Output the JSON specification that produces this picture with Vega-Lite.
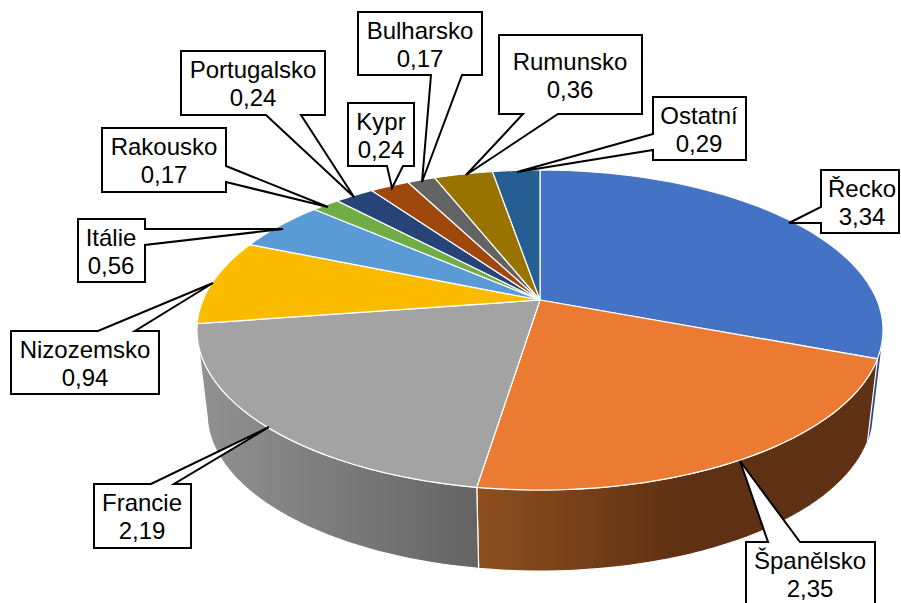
{
"$schema":"https://vega.github.io/schema/vega-lite/v6.json",
"width":901,"height":603,"padding":0,"autosize":{"type":"none"},
"background":"white",
"config":{"view":{"stroke":null},"axis":{"domain":false},"text":{"font":"Liberation Sans"}},
"datasets":{"slices":[
{"name":"Řecko","value":3.34,"tx":862,"yn":197,"yv":225,"xs":[821,899,899,821,821,789,821],"ys":[170,170,233,233,223,223,207],"k":[0,1,2,3,4,5,6]},
{"name":"Španělsko","value":2.35,"tx":810,"yn":569,"yv":597,"xs":[746,768,740,800,875,875,746],"ys":[542,542,461,542,542,612,612],"k":[0,1,2,3,4,5,6]},
{"name":"Francie","value":2.19,"tx":142,"yn":511,"yv":539,"xs":[94,151,269,174,191,191,94],"ys":[484,484,427,484,484,548,548],"k":[0,1,2,3,4,5,6]},
{"name":"Nizozemsko","value":0.94,"tx":85,"yn":358,"yv":386,"xs":[11,98,213,135,159,159,11],"ys":[331,331,283,331,331,394,394],"k":[0,1,2,3,4,5,6]},
{"name":"Itálie","value":0.56,"tx":111,"yn":246,"yv":274,"xs":[78,145,145,283,145,145,78],"ys":[219,219,229,229,245,282,282],"k":[0,1,2,3,4,5,6]},
{"name":"Rakousko","value":0.17,"tx":164,"yn":155,"yv":183,"xs":[102,226,226,328,226,226,102],"ys":[128,128,166,207,182,192,192],"k":[0,1,2,3,4,5,6]},
{"name":"Portugalsko","value":0.24,"tx":253,"yn":78,"yv":106,"xs":[181,325,325,301,354,266,181],"ys":[51,51,115,115,197,115,115],"k":[0,1,2,3,4,5,6]},
{"name":"Kypr","value":0.24,"tx":381,"yn":130,"yv":158,"xs":[348,414,414,403,392,387,348],"ys":[103,103,166,166,188,166,166],"k":[0,1,2,3,4,5,6]},
{"name":"Bulharsko","value":0.17,"tx":420,"yn":39,"yv":67,"xs":[358,482,482,462,422,431,358],"ys":[12,12,75,75,182,75,75],"k":[0,1,2,3,4,5,6]},
{"name":"Rumunsko","value":0.36,"tx":570,"yn":70,"yv":98,"xs":[499,642,642,558,466,523,499],"ys":[35,35,114,114,175,114,114],"k":[0,1,2,3,4,5,6]},
{"name":"Ostatní","value":0.29,"tx":699,"yn":124,"yv":152,"xs":[653,746,746,653,653,517,653],"ys":[97,97,160,160,150,172,134],"k":[0,1,2,3,4,5,6]}
]},
"data":{"name":"slices"},
"encoding":{
"x":{"field":"px","type":"quantitative","axis":null,"scale":{"domain":[0,901],"nice":false,"zero":false}},
"y":{"field":"py","type":"quantitative","axis":null,"scale":{"domain":[603,0],"nice":false,"zero":false}}
},
"layer":[
{"transform":[
{"window":[{"op":"sum","field":"value","as":"cum"}]},
{"joinaggregate":[{"op":"sum","field":"value","as":"total"}]},
{"calculate":"max((datum.cum-datum.value)/datum.total*2*PI,1.85)","as":"a0"},
{"calculate":"min(datum.cum/datum.total*2*PI,4.503)","as":"a1"},
{"filter":"datum.name==='Řecko'"},
{"calculate":"sequence(0,82)","as":"ts"},
{"flatten":["ts"],"as":["i"]},
{"calculate":"datum.a0+(datum.a1-datum.a0)*(datum.i<=40?datum.i/40:(81-datum.i)/40)","as":"a"},
{"calculate":"1+0.1875*cos(datum.a)","as":"d"},
{"calculate":"540+(datum.i<=40?337:327)*sin(datum.a)/datum.d","as":"px"},
{"calculate":"datum.i<=40?300-154.4*cos(datum.a)/datum.d:384-152*cos(datum.a)/datum.d","as":"py"}],
"mark":{"type":"line","interpolate":"linear-closed","stroke":null,"fill":"#2c4a85"},
"encoding":{"order":{"field":"i","type":"quantitative"}}},
{"transform":[
{"window":[{"op":"sum","field":"value","as":"cum"}]},
{"joinaggregate":[{"op":"sum","field":"value","as":"total"}]},
{"calculate":"max((datum.cum-datum.value)/datum.total*2*PI,1.85)","as":"a0"},
{"calculate":"min(datum.cum/datum.total*2*PI,4.503)","as":"a1"},
{"filter":"datum.name==='Španělsko'"},
{"calculate":"sequence(0,82)","as":"ts"},
{"flatten":["ts"],"as":["i"]},
{"calculate":"datum.a0+(datum.a1-datum.a0)*(datum.i<=40?datum.i/40:(81-datum.i)/40)","as":"a"},
{"calculate":"1+0.1875*cos(datum.a)","as":"d"},
{"calculate":"540+(datum.i<=40?337:327)*sin(datum.a)/datum.d","as":"px"},
{"calculate":"datum.i<=40?300-154.4*cos(datum.a)/datum.d:384-152*cos(datum.a)/datum.d","as":"py"}],
"mark":{"type":"line","interpolate":"linear-closed","stroke":"white","strokeWidth":1.2,
"fill":{"gradient":"linear","x1":0,"x2":1,"y1":0,"y2":0,"stops":[{"offset":0,"color":"#8e4f1e"},{"offset":0.5,"color":"#5f3114"},{"offset":1,"color":"#5f3114"}]}},
"encoding":{"order":{"field":"i","type":"quantitative"}}},
{"transform":[
{"window":[{"op":"sum","field":"value","as":"cum"}]},
{"joinaggregate":[{"op":"sum","field":"value","as":"total"}]},
{"calculate":"max((datum.cum-datum.value)/datum.total*2*PI,1.85)","as":"a0"},
{"calculate":"min(datum.cum/datum.total*2*PI,4.503)","as":"a1"},
{"filter":"datum.name==='Francie'"},
{"calculate":"sequence(0,82)","as":"ts"},
{"flatten":["ts"],"as":["i"]},
{"calculate":"datum.a0+(datum.a1-datum.a0)*(datum.i<=40?datum.i/40:(81-datum.i)/40)","as":"a"},
{"calculate":"1+0.1875*cos(datum.a)","as":"d"},
{"calculate":"540+(datum.i<=40?337:327)*sin(datum.a)/datum.d","as":"px"},
{"calculate":"datum.i<=40?300-154.4*cos(datum.a)/datum.d:384-152*cos(datum.a)/datum.d","as":"py"}],
"mark":{"type":"line","interpolate":"linear-closed","stroke":"white","strokeWidth":1.2,
"fill":{"gradient":"linear","x1":0,"x2":1,"y1":0,"y2":0,"stops":[{"offset":0,"color":"#929292"},{"offset":1,"color":"#646464"}]}},
"encoding":{"order":{"field":"i","type":"quantitative"}}},
{"transform":[
{"window":[{"op":"sum","field":"value","as":"cum"}]},
{"joinaggregate":[{"op":"sum","field":"value","as":"total"}]},
{"calculate":"(datum.cum-datum.value)/datum.total*2*PI","as":"a0"},
{"calculate":"datum.cum/datum.total*2*PI","as":"a1"},
{"calculate":"sequence(-1,41)","as":"ts"},
{"flatten":["ts"],"as":["i"]},
{"calculate":"datum.a0+(datum.a1-datum.a0)*max(datum.i,0)/40","as":"a"},
{"calculate":"datum.i<0?0:sin(datum.a)","as":"u"},
{"calculate":"datum.i<0?0:cos(datum.a)","as":"v"},
{"calculate":"1+0.1875*datum.v","as":"d"},
{"calculate":"540+337*datum.u/datum.d","as":"px"},
{"calculate":"300-154.4*datum.v/datum.d","as":"py"}],
"mark":{"type":"line","interpolate":"linear-closed","stroke":"white","strokeWidth":1.2},
"encoding":{
"detail":{"field":"name"},
"order":{"field":"i","type":"quantitative"},
"fill":{"field":"name","type":"nominal","legend":null,"scale":{
"domain":["Řecko","Španělsko","Francie","Nizozemsko","Itálie","Rakousko","Portugalsko","Kypr","Bulharsko","Rumunsko","Ostatní"],
"range":["#4472C4","#EB7B32","#A3A3A3","#FBBC00","#5B9BD5","#70AD47","#264478","#9E480E","#636363","#997300","#255E91"]}}}},
{"transform":[
{"flatten":["xs","ys","k"],"as":["px","py","j"]}],
"mark":{"type":"line","interpolate":"linear-closed","stroke":"black","strokeWidth":2,"fill":"white","strokeJoin":"miter"},
"encoding":{"detail":{"field":"name"},"order":{"field":"j","type":"quantitative"}}},
{"mark":{"type":"text","fontSize":24,"font":"Liberation Sans","color":"black","align":"center","baseline":"alphabetic"},
"encoding":{
"x":{"field":"tx","type":"quantitative"},
"y":{"field":"yn","type":"quantitative"},
"text":{"field":"name"}}},
{"transform":[{"calculate":"replace(format(datum.value,'.2f'),'.',',')","as":"label"}],
"mark":{"type":"text","fontSize":24,"font":"Liberation Sans","color":"black","align":"center","baseline":"alphabetic"},
"encoding":{
"x":{"field":"tx","type":"quantitative"},
"y":{"field":"yv","type":"quantitative"},
"text":{"field":"label"}}}
]
}
